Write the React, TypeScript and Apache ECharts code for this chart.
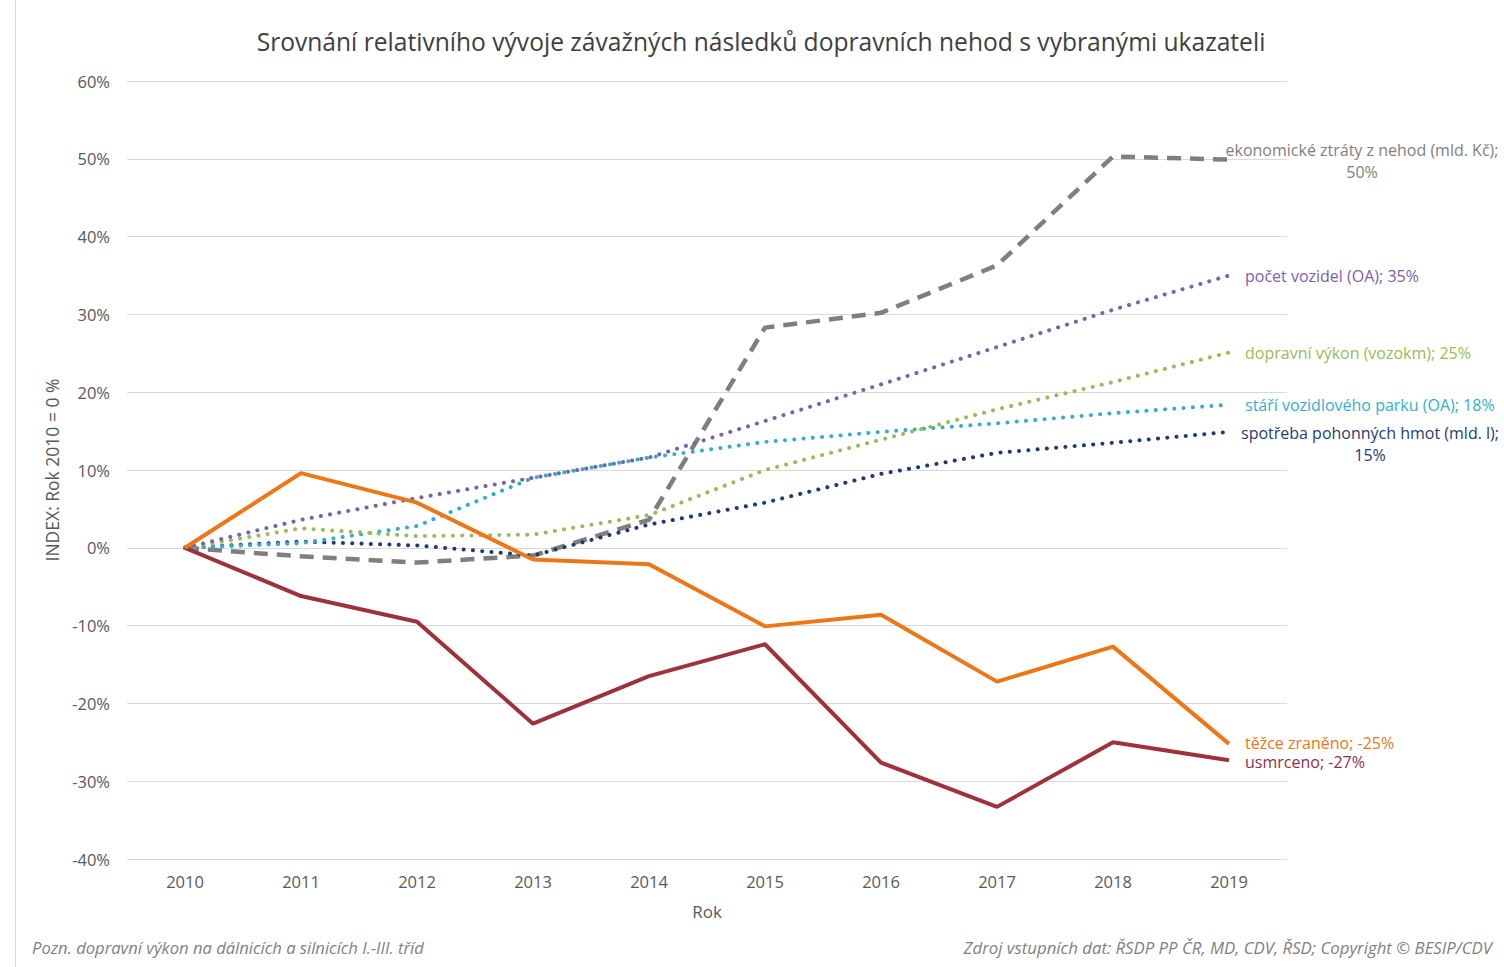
import React, { useEffect, useRef } from "react";
import * as echarts from "echarts";

const years = ["2010", "2011", "2012", "2013", "2014", "2015", "2016", "2017", "2018", "2019"];
const ekonomickeZtraty = [0, -1.1, -1.9, -1.0, 3.6, 28.3, 30.2, 36.3, 50.3, 49.9];
const pocetVozidel = [0, 3.6, 6.4, 9.0, 11.6, 16.3, 21.0, 25.8, 30.6, 35.0];
const dopravniVykon = [0, 2.5, 1.5, 1.7, 4.2, 10.0, 13.9, 17.8, 21.3, 25.1];
const stariParku = [0, 0.6, 2.8, 9.0, 11.6, 13.6, 14.9, 16.0, 17.3, 18.4];
const spotrebaHmot = [0, 0.8, 0.3, -1.0, 3.0, 5.8, 9.5, 12.2, 13.5, 14.9];
const tezceZraneno = [0, 9.6, 5.8, -1.5, -2.1, -10.1, -8.6, -17.2, -12.7, -25.2];
const usmrceno = [0, -6.2, -9.5, -22.6, -16.5, -12.4, -27.6, -33.3, -25.0, -27.3];
const yTicks = [-40, -30, -20, -10, 0, 10, 20, 30, 40, 50, 60];

const FONT = "'Open Sans', sans-serif";

export default function App() {
  const ref = useRef<HTMLDivElement>(null);
  useEffect(() => {
    if (!ref.current) return;
    const chart = echarts.init(ref.current, undefined, { renderer: "svg" });
    const dotStyle = (color: string) => ({
      color,
      width: 4,
      type: [0.1, 9.2] as any,
      cap: "round" as any,
    });
    chart.setOption({
      animation: false,
      backgroundColor: "#ffffff",
      grid: { left: 127, right: 217, top: 81, bottom: 108, containLabel: false },
      xAxis: {
        type: "category",
        data: years,
        boundaryGap: true,
        axisLine: { show: false },
        axisTick: { show: false },
        axisLabel: { color: "#595959", fontSize: 16.5, fontFamily: FONT, margin: 14 },
        name: "Rok",
        nameLocation: "middle",
        nameGap: 44,
        nameTextStyle: { color: "#595959", fontSize: 17, fontFamily: FONT },
      },
      yAxis: {
        type: "value",
        min: yTicks[0],
        max: yTicks[yTicks.length - 1],
        interval: 10,
        axisLine: { show: false },
        axisTick: { show: false },
        splitLine: { lineStyle: { color: "#D9D9D9", width: 1 } },
        axisLabel: {
          color: "#595959",
          fontSize: 16.5,
          fontFamily: FONT,
          margin: 17,
          formatter: (v: number) => `${v}%`,
        },
        name: "INDEX: Rok 2010 = 0 %",
        nameLocation: "middle",
        nameRotate: 90,
        nameGap: 60,
        nameTextStyle: { color: "#595959", fontSize: 17.5, fontFamily: FONT },
      },
      series: [
        {
          name: "ekonomické ztráty",
          type: "line",
          data: ekonomickeZtraty,
          symbol: "none",
          lineStyle: { color: "#7F7F7F", width: 4.5, type: [14, 9] as any, cap: "butt" },
        },
        { name: "spotřeba", type: "line", data: spotrebaHmot, symbol: "none", lineStyle: dotStyle("#1F3B73") },
        { name: "stáří", type: "line", data: stariParku, symbol: "none", lineStyle: dotStyle("#35AFC9") },
        { name: "dopravní výkon", type: "line", data: dopravniVykon, symbol: "none", lineStyle: dotStyle("#9BBB59") },
        { name: "počet vozidel", type: "line", data: pocetVozidel, symbol: "none", lineStyle: dotStyle("#7A63A6") },
        { name: "usmrceno", type: "line", data: usmrceno, symbol: "none", lineStyle: { color: "#9E3139", width: 4 } },
        { name: "těžce zraněno", type: "line", data: tezceZraneno, symbol: "none", lineStyle: { color: "#ED7716", width: 4 } },
      ],
    });

    const last = years.length - 1;
    const pt = (arr: number[]) =>
      chart.convertToPixel({ xAxisIndex: 0, yAxisIndex: 0 }, [years[last], arr[last]]) as number[];
    const pct = (arr: number[]) => `${Math.round(arr[last])}%`;

    const labelDefs = [
      { arr: ekonomickeZtraty, text: `ekonomické ztráty z nehod (mld. Kč);\n${pct(ekonomickeZtraty)}`, color: "#7F7F7F", dx: 133, dy: 1, align: "center", lh: 22 },
      { arr: pocetVozidel, text: `počet vozidel (OA); ${pct(pocetVozidel)}`, color: "#7A63A6", dx: 16, dy: 0, align: "left", lh: 17 },
      { arr: dopravniVykon, text: `dopravní výkon (vozokm); ${pct(dopravniVykon)}`, color: "#9BBB59", dx: 16, dy: 0, align: "left", lh: 17 },
      { arr: stariParku, text: `stáří vozidlového parku (OA); ${pct(stariParku)}`, color: "#35AFC9", dx: 16, dy: 0, align: "left", lh: 17 },
      { arr: spotrebaHmot, text: `spotřeba pohonných hmot (mld. l);\n${pct(spotrebaHmot)}`, color: "#1F3B73", dx: 141, dy: 12, align: "center", lh: 22 },
      { arr: tezceZraneno, text: `těžce zraněno; ${pct(tezceZraneno)}`, color: "#ED7716", dx: 16, dy: -1, align: "left", lh: 16 },
      { arr: usmrceno, text: `usmrceno; ${pct(usmrceno)}`, color: "#8E2F4A", dx: 16, dy: 2, align: "left", lh: 16 },
    ];

    const graphics: any[] = [
      {
        type: "line",
        shape: { x1: 15.5, y1: 0, x2: 15.5, y2: 967 },
        style: { stroke: "#D9D9D9", lineWidth: 1 },
        silent: true,
      },
      {
        type: "text",
        x: 761,
        y: 41,
        style: {
          text: "Srovnání relativního vývoje závažných následků dopravních nehod s vybranými ukazateli",
          fill: "#404040",
          fontSize: 24.6,
          fontFamily: FONT,
          textAlign: "center",
          textVerticalAlign: "middle",
        },
      },
      {
        type: "text",
        x: 32,
        y: 947,
        style: {
          text: "Pozn. dopravní výkon na dálnicích a silnicích I.-III. tříd",
          fill: "#7F7F7F",
          fontSize: 16.6,
          fontStyle: "italic",
          fontFamily: FONT,
          textAlign: "left",
          textVerticalAlign: "middle",
        },
      },
      {
        type: "text",
        x: 1492,
        y: 947,
        style: {
          text: "Zdroj vstupních dat: ŘSDP PP ČR, MD, CDV, ŘSD; Copyright © BESIP/CDV",
          fill: "#7F7F7F",
          fontSize: 16.8,
          fontStyle: "italic",
          fontFamily: FONT,
          textAlign: "right",
          textVerticalAlign: "middle",
        },
      },
    ];
    labelDefs.forEach((d) => {
      const p = pt(d.arr);
      graphics.push({
        type: "text",
        x: p[0] + d.dx,
        y: p[1] + d.dy,
        style: {
          text: d.text,
          fill: d.color,
          fontSize: 16,
          fontFamily: FONT,
          lineHeight: d.lh,
          textAlign: d.align,
          textVerticalAlign: "middle",
        },
      });
    });
    chart.setOption({ graphic: graphics });

    return () => chart.dispose();
  }, []);
  return (
    <div
      ref={ref}
      style={{ position: "fixed", left: 0, top: 0, width: 1504, height: 967, background: "#fff" }}
    />
  );
}
